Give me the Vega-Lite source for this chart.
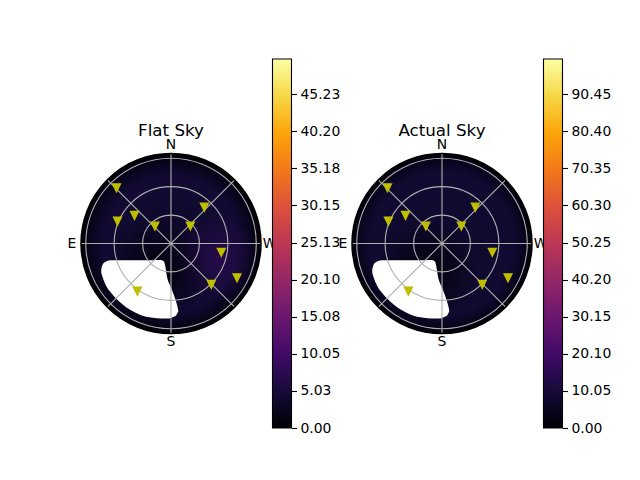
{
  "$schema": "https://vega.github.io/schema/vega-lite/v6.json",
  "padding": {"left": 67, "top": 58, "right": 5, "bottom": 5},
  "background": "white",
  "datasets": {
    "disc": [{"x": 0, "y": 0, "r": 95}],
    "rings": [
      {"x": 0, "y": 0, "r": 30},
      {"x": 0, "y": 0, "r": 60},
      {"x": 0, "y": 0, "r": 90}
    ],
    "spokes": [
      {"x": 0, "y": 95, "x2": 0, "y2": -95},
      {"x": -95, "y": 0, "x2": 95, "y2": 0},
      {"x": -67.2, "y": 67.2, "x2": 67.2, "y2": -67.2},
      {"x": -67.2, "y": -67.2, "x2": 67.2, "y2": 67.2}
    ],
    "glow_light": [{"x": 49, "y": -15, "r": 45}],
    "glow_dark": [{"x": -16, "y": -30, "r": 55}],
    "blob": [
      {"x": -73.6, "y": -27.0, "y2": -31.0},
      {"x": -72.1, "y": -22.2, "y2": -35.9},
      {"x": -68.6, "y": -19.0, "y2": -44.3},
      {"x": -63.3, "y": -17.6, "y2": -52.1},
      {"x": -51.0, "y": -17.6, "y2": -64.4},
      {"x": -33.5, "y": -17.6, "y2": -74.9},
      {"x": -19.3, "y": -17.6, "y2": -78.5},
      {"x": -10.6, "y": -17.4, "y2": -79.2},
      {"x": -7.4, "y": -19.0, "y2": -79.2},
      {"x": -3.5, "y": -38.0, "y2": -79.2},
      {"x": 0.0, "y": -46.4, "y2": -78.6},
      {"x": 3.5, "y": -55.6, "y2": -77.1},
      {"x": 5.3, "y": -61.2, "y2": -76.0},
      {"x": 7.1, "y": -68.0, "y2": -72.8},
      {"x": 7.6, "y": -70.7, "y2": -71.8}
    ],
    "sats": [
      {"x": -57.5, "y": 58.8},
      {"x": -38.5, "y": 29.6},
      {"x": -56.5, "y": 23.5},
      {"x": -17.0, "y": 18.3},
      {"x": 20.4, "y": 18.3},
      {"x": 35.2, "y": 38.3},
      {"x": 53.1, "y": -9.3},
      {"x": 69.7, "y": -36.2},
      {"x": 42.5, "y": -43.3},
      {"x": -35.5, "y": -50.4}
    ],
    "compass": [
      {"x": 0, "y": 104.5, "label": "N"},
      {"x": 0, "y": -104, "label": "S"},
      {"x": -104.5, "y": 0, "label": "E"},
      {"x": 104, "y": 0, "label": "W"}
    ],
    "title_flat": [{"x": 0, "y": 119, "label": "Flat Sky"}],
    "title_actual": [{"x": 0, "y": 119, "label": "Actual Sky"}],
    "cbar_flat": [{"lo": 0, "hi": 50}],
    "cbar_actual": [{"lo": 0, "hi": 100}]
  },
  "hconcat": [
    {
      "width": 180,
      "height": 369,
      "encoding": {
        "x": {"field": "x", "type": "quantitative", "scale": {"domain": [-95, 95], "nice": false, "zero": false}, "axis": null},
        "y": {"field": "y", "type": "quantitative", "scale": {"domain": [-194.75, 194.75], "nice": false, "zero": false}, "axis": null}
      },
      "layer": [
        {
          "data": {"name": "disc"},
          "mark": {"type": "point", "shape": "circle", "filled": true, "opacity": 1,
            "fill": {"gradient": "radial", "x1": 0.5, "y1": 0.5, "r1": 0, "x2": 0.5, "y2": 0.5, "r2": 0.5,
              "stops": [
                {"offset": 0, "color": "#0e0829"},
                {"offset": 0.75, "color": "#120a33"},
                {"offset": 0.91, "color": "#07041a"},
                {"offset": 1, "color": "#000004"}
              ]}},
          "encoding": {"size": {"field": "r", "type": "quantitative", "scale": {"type": "pow", "exponent": 2, "domain": [0, 95], "range": [0, 32400]}, "legend": null}}
        },
        {
          "data": {"name": "glow_light"},
          "mark": {"type": "point", "shape": "circle", "filled": true, "opacity": 1,
            "fill": {"gradient": "radial", "x1": 0.5, "y1": 0.5, "r1": 0, "x2": 0.5, "y2": 0.5, "r2": 0.5,
              "stops": [
                {"offset": 0, "color": "rgba(52,12,92,0.6)"},
                {"offset": 1, "color": "rgba(52,12,92,0)"}
              ]}},
          "encoding": {"size": {"field": "r", "type": "quantitative", "scale": {"type": "pow", "exponent": 2, "domain": [0, 95], "range": [0, 32400]}, "legend": null}}
        },
        {
          "data": {"name": "glow_dark"},
          "mark": {"type": "point", "shape": "circle", "filled": true, "opacity": 1,
            "fill": {"gradient": "radial", "x1": 0.5, "y1": 0.5, "r1": 0, "x2": 0.5, "y2": 0.5, "r2": 0.5,
              "stops": [
                {"offset": 0, "color": "rgba(0,0,4,0.85)"},
                {"offset": 1, "color": "rgba(0,0,4,0)"}
              ]}},
          "encoding": {"size": {"field": "r", "type": "quantitative", "scale": {"type": "pow", "exponent": 2, "domain": [0, 95], "range": [0, 32400]}, "legend": null}}
        },
        {
          "data": {"name": "blob"},
          "mark": {"type": "area", "orient": "vertical", "color": "white", "opacity": 1, "interpolate": "monotone"},
          "encoding": {"y2": {"field": "y2"}}
        },
        {
          "data": {"name": "rings"},
          "mark": {"type": "point", "shape": "circle", "filled": false, "opacity": 1, "stroke": "#b0b0b0", "strokeWidth": 1.1},
          "encoding": {"size": {"field": "r", "type": "quantitative", "scale": {"type": "pow", "exponent": 2, "domain": [0, 95], "range": [0, 32400]}, "legend": null}}
        },
        {
          "data": {"name": "spokes"},
          "mark": {"type": "rule", "color": "#b0b0b0", "strokeWidth": 1.1},
          "encoding": {"x2": {"field": "x2"}, "y2": {"field": "y2"}}
        },
        {
          "data": {"name": "disc"},
          "mark": {"type": "point", "shape": "circle", "filled": false, "opacity": 1, "stroke": "#000000", "strokeWidth": 1.5},
          "encoding": {"size": {"field": "r", "type": "quantitative", "scale": {"type": "pow", "exponent": 2, "domain": [0, 95], "range": [0, 32400]}, "legend": null}}
        },
        {
          "data": {"name": "sats"},
          "mark": {"type": "point", "shape": "M-1,-1L1,-1L0,1Z", "filled": true, "opacity": 1, "color": "#bfbf00", "stroke": "#bfbf00", "strokeWidth": 1.3, "size": 64}
        },
        {
          "data": {"name": "compass"},
          "mark": {"type": "text", "font": "DejaVu Sans", "fontSize": 13.9, "color": "#000000", "align": "center", "baseline": "middle"},
          "encoding": {"text": {"field": "label"}}
        },
        {
          "data": {"name": "title_flat"},
          "mark": {"type": "text", "font": "DejaVu Sans", "fontSize": 16.7, "color": "#000000", "align": "center", "baseline": "middle"},
          "encoding": {"text": {"field": "label"}}
        }
      ]
    },
    {
      "width": 19,
      "height": 369,
      "data": {"name": "cbar_flat"},
      "mark": {"type": "rect", "stroke": "#000000", "strokeWidth": 1.1,
        "fill": {"gradient": "linear", "x1": 0, "y1": 1, "x2": 0, "y2": 0,
          "stops": [
            {"offset": 0, "color": "#000004"},
            {"offset": 0.1, "color": "#160b39"},
            {"offset": 0.2, "color": "#420a68"},
            {"offset": 0.3, "color": "#6a176e"},
            {"offset": 0.4, "color": "#932667"},
            {"offset": 0.5, "color": "#bc3754"},
            {"offset": 0.6, "color": "#dd513a"},
            {"offset": 0.7, "color": "#f37819"},
            {"offset": 0.8, "color": "#fca50a"},
            {"offset": 0.9, "color": "#f6d746"},
            {"offset": 1, "color": "#fcffa4"}
          ]}},
      "encoding": {
        "y": {"field": "lo", "type": "quantitative", "scale": {"domain": [0, 50], "nice": false, "zero": false},
          "axis": {"orient": "right", "title": null, "values": [0, 5.03, 10.05, 15.08, 20.1, 25.13, 30.15, 35.18, 40.2, 45.23], "format": ".2f",
            "domain": false, "grid": false, "tickSize": 5, "tickWidth": 1.1, "tickColor": "#000000", "labelPadding": 3.5,
            "labelFontSize": 13.9, "labelFont": "DejaVu Sans", "labelColor": "#000000", "labelFlush": false, "labelOverlap": false}},
        "y2": {"field": "hi"}
      }
    },
    {
      "width": 229,
      "height": 369,
      "encoding": {
        "x": {"field": "x", "type": "quantitative", "scale": {"domain": [-146.7, 95], "nice": false, "zero": false}, "axis": null},
        "y": {"field": "y", "type": "quantitative", "scale": {"domain": [-194.75, 194.75], "nice": false, "zero": false}, "axis": null}
      },
      "layer": [
        {
          "data": {"name": "disc"},
          "mark": {"type": "point", "shape": "circle", "filled": true, "opacity": 1,
            "fill": {"gradient": "radial", "x1": 0.5, "y1": 0.5, "r1": 0, "x2": 0.5, "y2": 0.5, "r2": 0.5,
              "stops": [
                {"offset": 0, "color": "#0e092d"},
                {"offset": 0.8, "color": "#110a31"},
                {"offset": 0.93, "color": "#07041c"},
                {"offset": 1, "color": "#000004"}
              ]}},
          "encoding": {"size": {"field": "r", "type": "quantitative", "scale": {"type": "pow", "exponent": 2, "domain": [0, 95], "range": [0, 32400]}, "legend": null}}
        },
        {
          "data": {"name": "glow_dark"},
          "mark": {"type": "point", "shape": "circle", "filled": true, "opacity": 1,
            "fill": {"gradient": "radial", "x1": 0.5, "y1": 0.5, "r1": 0, "x2": 0.5, "y2": 0.5, "r2": 0.5,
              "stops": [
                {"offset": 0, "color": "rgba(0,0,4,0.85)"},
                {"offset": 1, "color": "rgba(0,0,4,0)"}
              ]}},
          "encoding": {"size": {"field": "r", "type": "quantitative", "scale": {"type": "pow", "exponent": 2, "domain": [0, 95], "range": [0, 32400]}, "legend": null}}
        },
        {
          "data": {"name": "blob"},
          "mark": {"type": "area", "orient": "vertical", "color": "white", "opacity": 1, "interpolate": "monotone"},
          "encoding": {"y2": {"field": "y2"}}
        },
        {
          "data": {"name": "rings"},
          "mark": {"type": "point", "shape": "circle", "filled": false, "opacity": 1, "stroke": "#b0b0b0", "strokeWidth": 1.1},
          "encoding": {"size": {"field": "r", "type": "quantitative", "scale": {"type": "pow", "exponent": 2, "domain": [0, 95], "range": [0, 32400]}, "legend": null}}
        },
        {
          "data": {"name": "spokes"},
          "mark": {"type": "rule", "color": "#b0b0b0", "strokeWidth": 1.1},
          "encoding": {"x2": {"field": "x2"}, "y2": {"field": "y2"}}
        },
        {
          "data": {"name": "disc"},
          "mark": {"type": "point", "shape": "circle", "filled": false, "opacity": 1, "stroke": "#000000", "strokeWidth": 1.5},
          "encoding": {"size": {"field": "r", "type": "quantitative", "scale": {"type": "pow", "exponent": 2, "domain": [0, 95], "range": [0, 32400]}, "legend": null}}
        },
        {
          "data": {"name": "sats"},
          "mark": {"type": "point", "shape": "M-1,-1L1,-1L0,1Z", "filled": true, "opacity": 1, "color": "#bfbf00", "stroke": "#bfbf00", "strokeWidth": 1.3, "size": 64}
        },
        {
          "data": {"name": "compass"},
          "mark": {"type": "text", "font": "DejaVu Sans", "fontSize": 13.9, "color": "#000000", "align": "center", "baseline": "middle"},
          "encoding": {"text": {"field": "label"}}
        },
        {
          "data": {"name": "title_actual"},
          "mark": {"type": "text", "font": "DejaVu Sans", "fontSize": 16.7, "color": "#000000", "align": "center", "baseline": "middle"},
          "encoding": {"text": {"field": "label"}}
        }
      ]
    },
    {
      "width": 19,
      "height": 369,
      "data": {"name": "cbar_actual"},
      "mark": {"type": "rect", "stroke": "#000000", "strokeWidth": 1.1,
        "fill": {"gradient": "linear", "x1": 0, "y1": 1, "x2": 0, "y2": 0,
          "stops": [
            {"offset": 0, "color": "#000004"},
            {"offset": 0.1, "color": "#160b39"},
            {"offset": 0.2, "color": "#420a68"},
            {"offset": 0.3, "color": "#6a176e"},
            {"offset": 0.4, "color": "#932667"},
            {"offset": 0.5, "color": "#bc3754"},
            {"offset": 0.6, "color": "#dd513a"},
            {"offset": 0.7, "color": "#f37819"},
            {"offset": 0.8, "color": "#fca50a"},
            {"offset": 0.9, "color": "#f6d746"},
            {"offset": 1, "color": "#fcffa4"}
          ]}},
      "encoding": {
        "y": {"field": "lo", "type": "quantitative", "scale": {"domain": [0, 100], "nice": false, "zero": false},
          "axis": {"orient": "right", "title": null, "values": [0, 10.05, 20.1, 30.15, 40.2, 50.25, 60.3, 70.35, 80.4, 90.45], "format": ".2f",
            "domain": false, "grid": false, "tickSize": 5, "tickWidth": 1.1, "tickColor": "#000000", "labelPadding": 3.5,
            "labelFontSize": 13.9, "labelFont": "DejaVu Sans", "labelColor": "#000000", "labelFlush": false, "labelOverlap": false}},
        "y2": {"field": "hi"}
      }
    }
  ],
  "spacing": 11.5,
  "bounds": "flush",
  "config": {
    "view": {"stroke": null},
    "font": "DejaVu Sans"
  }
}
